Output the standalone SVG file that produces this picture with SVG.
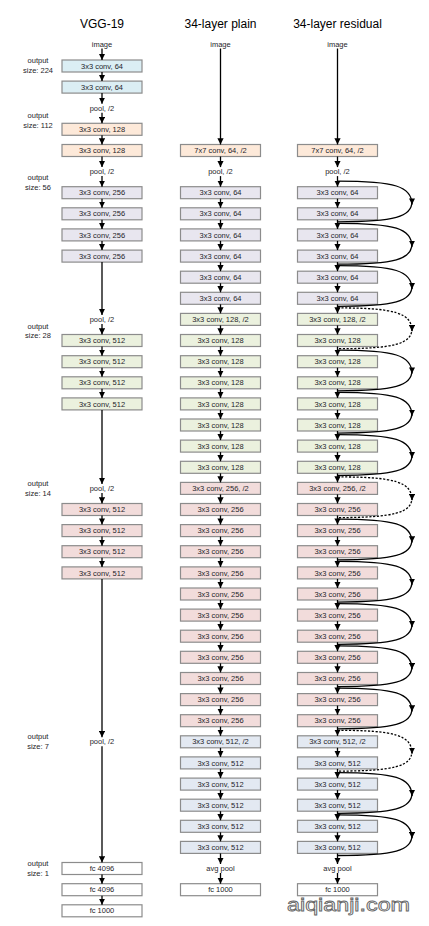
<svg xmlns="http://www.w3.org/2000/svg" width="429" height="926" viewBox="0 0 429 926">
<defs>
<marker id="ah" viewBox="0 0 10 10" refX="10" refY="5" markerWidth="6.2" markerHeight="6.2" markerUnits="userSpaceOnUse" orient="auto"><path d="M0,0 L10,5 L0,10 z" fill="#000"/></marker>
<style>
text{font-family:"Liberation Sans",Arial,sans-serif;fill:#1e1e2a;text-anchor:middle}
.t{font-size:12px;fill:#000}
.l{font-size:7.5px}
.o{font-size:7.5px}
rect{stroke:#8c8c8c;stroke-width:1.2;width:80px;height:12px}
.blue{fill:#dbeef4}.org{fill:#fde9d9}.lav{fill:#e8e6ef}.grn{fill:#ebf1de}.pnk{fill:#f2dcdb}.gry{fill:#e3e9f2}.wht{fill:#fff}
.a{stroke:#000;stroke-width:1.3;fill:none;marker-end:url(#ah)}
.s{stroke:#000;stroke-width:1.3;fill:none}
.d{stroke-dasharray:2.2 1.6}
.wm{font-size:18px;fill:#fff;stroke:#666;stroke-width:0.8;text-anchor:start}
</style>
</defs>
<g id="titles">
<text class="t" x="102" y="28">VGG-19</text>
<text class="t" x="220.5" y="28">34-layer plain</text>
<text class="t" x="337.5" y="28">34-layer residual</text>
</g>
<g id="output-sizes">
<text class="o" x="38" y="62.6">output</text><text class="o" x="38" y="72.5">size: 224</text>
<text class="o" x="38" y="117.5">output</text><text class="o" x="38" y="127.5">size: 112</text>
<text class="o" x="38" y="180">output</text><text class="o" x="38" y="189.7">size: 56</text>
<text class="o" x="38" y="328.5">output</text><text class="o" x="38" y="338.3">size: 28</text>
<text class="o" x="38" y="485.5">output</text><text class="o" x="38" y="495.5">size: 14</text>
<text class="o" x="38" y="739">output</text><text class="o" x="38" y="749">size: 7</text>
<text class="o" x="38" y="866">output</text><text class="o" x="38" y="876">size: 1</text>
</g>
<g id="vgg">
<g id="v_img"><text class="l" x="102" y="46.8">image</text></g>
<g id="v_1"><rect class="blue" x="62" y="60.0"/><text class="l" x="102" y="68.6">3x3 conv, 64</text></g>
<g id="v_2"><rect class="blue" x="62" y="81.1"/><text class="l" x="102" y="89.7">3x3 conv, 64</text></g>
<g id="v_p1"><text class="l" x="102" y="110.8">pool, /2</text></g>
<g id="v_3"><rect class="org" x="62" y="123.3"/><text class="l" x="102" y="131.9">3x3 conv, 128</text></g>
<g id="v_4"><rect class="org" x="62" y="144.5"/><text class="l" x="102" y="153.1">3x3 conv, 128</text></g>
<g id="v_p2"><text class="l" x="102" y="174.2">pool, /2</text></g>
<g id="v_5"><rect class="lav" x="62" y="186.7"/><text class="l" x="102" y="195.3">3x3 conv, 256</text></g>
<g id="v_6"><rect class="lav" x="62" y="207.8"/><text class="l" x="102" y="216.4">3x3 conv, 256</text></g>
<g id="v_7"><rect class="lav" x="62" y="228.9"/><text class="l" x="102" y="237.5">3x3 conv, 256</text></g>
<g id="v_8"><rect class="lav" x="62" y="250.1"/><text class="l" x="102" y="258.7">3x3 conv, 256</text></g>
<g id="v_p3"><text class="l" x="102" y="322.0">pool, /2</text></g>
<g id="v_9"><rect class="grn" x="62" y="334.5"/><text class="l" x="102" y="343.1">3x3 conv, 512</text></g>
<g id="v_10"><rect class="grn" x="62" y="355.7"/><text class="l" x="102" y="364.3">3x3 conv, 512</text></g>
<g id="v_11"><rect class="grn" x="62" y="376.8"/><text class="l" x="102" y="385.4">3x3 conv, 512</text></g>
<g id="v_12"><rect class="grn" x="62" y="397.9"/><text class="l" x="102" y="406.5">3x3 conv, 512</text></g>
<g id="v_p4"><text class="l" x="102" y="491.0">pool, /2</text></g>
<g id="v_13"><rect class="pnk" x="62" y="503.5"/><text class="l" x="102" y="512.1">3x3 conv, 512</text></g>
<g id="v_14"><rect class="pnk" x="62" y="524.6"/><text class="l" x="102" y="533.2">3x3 conv, 512</text></g>
<g id="v_15"><rect class="pnk" x="62" y="545.7"/><text class="l" x="102" y="554.3">3x3 conv, 512</text></g>
<g id="v_16"><rect class="pnk" x="62" y="566.9"/><text class="l" x="102" y="575.5">3x3 conv, 512</text></g>
<g id="v_p5"><text class="l" x="102" y="744.4">pool, /2</text></g>
<g id="v_fc1"><rect class="wht" x="62" y="862.5"/><text class="l" x="102" y="871.1">fc 4096</text></g>
<g id="v_fc2"><rect class="wht" x="62" y="883.7"/><text class="l" x="102" y="892.3">fc 4096</text></g>
<g id="v_fc3"><rect class="wht" x="62" y="904.8"/><text class="l" x="102" y="913.4">fc 1000</text></g>
</g>
<g id="plain">
<g id="p_img"><text class="l" x="220.5" y="46.8">image</text></g>
<g id="p_0"><rect class="org" x="180.5" y="144.5"/><text class="l" x="220.5" y="153.1">7x7 conv, 64, /2</text></g>
<g id="p_pool"><text class="l" x="220.5" y="174.2">pool, /2</text></g>
<g id="p_1"><rect class="lav" x="180.5" y="186.7"/><text class="l" x="220.5" y="195.3">3x3 conv, 64</text></g>
<g id="p_2"><rect class="lav" x="180.5" y="207.8"/><text class="l" x="220.5" y="216.4">3x3 conv, 64</text></g>
<g id="p_3"><rect class="lav" x="180.5" y="228.9"/><text class="l" x="220.5" y="237.5">3x3 conv, 64</text></g>
<g id="p_4"><rect class="lav" x="180.5" y="250.1"/><text class="l" x="220.5" y="258.7">3x3 conv, 64</text></g>
<g id="p_5"><rect class="lav" x="180.5" y="271.2"/><text class="l" x="220.5" y="279.8">3x3 conv, 64</text></g>
<g id="p_6"><rect class="lav" x="180.5" y="292.3"/><text class="l" x="220.5" y="300.9">3x3 conv, 64</text></g>
<g id="p_7"><rect class="grn" x="180.5" y="313.4"/><text class="l" x="220.5" y="322.0">3x3 conv, 128, /2</text></g>
<g id="p_8"><rect class="grn" x="180.5" y="334.5"/><text class="l" x="220.5" y="343.1">3x3 conv, 128</text></g>
<g id="p_9"><rect class="grn" x="180.5" y="355.7"/><text class="l" x="220.5" y="364.3">3x3 conv, 128</text></g>
<g id="p_10"><rect class="grn" x="180.5" y="376.8"/><text class="l" x="220.5" y="385.4">3x3 conv, 128</text></g>
<g id="p_11"><rect class="grn" x="180.5" y="397.9"/><text class="l" x="220.5" y="406.5">3x3 conv, 128</text></g>
<g id="p_12"><rect class="grn" x="180.5" y="419.0"/><text class="l" x="220.5" y="427.6">3x3 conv, 128</text></g>
<g id="p_13"><rect class="grn" x="180.5" y="440.1"/><text class="l" x="220.5" y="448.7">3x3 conv, 128</text></g>
<g id="p_14"><rect class="grn" x="180.5" y="461.3"/><text class="l" x="220.5" y="469.9">3x3 conv, 128</text></g>
<g id="p_15"><rect class="pnk" x="180.5" y="482.4"/><text class="l" x="220.5" y="491.0">3x3 conv, 256, /2</text></g>
<g id="p_16"><rect class="pnk" x="180.5" y="503.5"/><text class="l" x="220.5" y="512.1">3x3 conv, 256</text></g>
<g id="p_17"><rect class="pnk" x="180.5" y="524.6"/><text class="l" x="220.5" y="533.2">3x3 conv, 256</text></g>
<g id="p_18"><rect class="pnk" x="180.5" y="545.7"/><text class="l" x="220.5" y="554.3">3x3 conv, 256</text></g>
<g id="p_19"><rect class="pnk" x="180.5" y="566.9"/><text class="l" x="220.5" y="575.5">3x3 conv, 256</text></g>
<g id="p_20"><rect class="pnk" x="180.5" y="588.0"/><text class="l" x="220.5" y="596.6">3x3 conv, 256</text></g>
<g id="p_21"><rect class="pnk" x="180.5" y="609.1"/><text class="l" x="220.5" y="617.7">3x3 conv, 256</text></g>
<g id="p_22"><rect class="pnk" x="180.5" y="630.2"/><text class="l" x="220.5" y="638.8">3x3 conv, 256</text></g>
<g id="p_23"><rect class="pnk" x="180.5" y="651.3"/><text class="l" x="220.5" y="659.9">3x3 conv, 256</text></g>
<g id="p_24"><rect class="pnk" x="180.5" y="672.5"/><text class="l" x="220.5" y="681.1">3x3 conv, 256</text></g>
<g id="p_25"><rect class="pnk" x="180.5" y="693.6"/><text class="l" x="220.5" y="702.2">3x3 conv, 256</text></g>
<g id="p_26"><rect class="pnk" x="180.5" y="714.7"/><text class="l" x="220.5" y="723.3">3x3 conv, 256</text></g>
<g id="p_27"><rect class="gry" x="180.5" y="735.8"/><text class="l" x="220.5" y="744.4">3x3 conv, 512, /2</text></g>
<g id="p_28"><rect class="gry" x="180.5" y="756.9"/><text class="l" x="220.5" y="765.5">3x3 conv, 512</text></g>
<g id="p_29"><rect class="gry" x="180.5" y="778.1"/><text class="l" x="220.5" y="786.7">3x3 conv, 512</text></g>
<g id="p_30"><rect class="gry" x="180.5" y="799.2"/><text class="l" x="220.5" y="807.8">3x3 conv, 512</text></g>
<g id="p_31"><rect class="gry" x="180.5" y="820.3"/><text class="l" x="220.5" y="828.9">3x3 conv, 512</text></g>
<g id="p_32"><rect class="gry" x="180.5" y="841.4"/><text class="l" x="220.5" y="850.0">3x3 conv, 512</text></g>
<g id="p_avg"><text class="l" x="220.5" y="871.1">avg pool</text></g>
<g id="p_fc"><rect class="wht" x="180.5" y="883.7"/><text class="l" x="220.5" y="892.3">fc 1000</text></g>
</g>
<g id="residual">
<g id="r_img"><text class="l" x="337.5" y="46.8">image</text></g>
<g id="r_0"><rect class="org" x="297.5" y="144.5"/><text class="l" x="337.5" y="153.1">7x7 conv, 64, /2</text></g>
<g id="r_pool"><text class="l" x="337.5" y="174.2">pool, /2</text></g>
<g id="r_1"><rect class="lav" x="297.5" y="186.7"/><text class="l" x="337.5" y="195.3">3x3 conv, 64</text></g>
<g id="r_2"><rect class="lav" x="297.5" y="207.8"/><text class="l" x="337.5" y="216.4">3x3 conv, 64</text></g>
<g id="r_3"><rect class="lav" x="297.5" y="228.9"/><text class="l" x="337.5" y="237.5">3x3 conv, 64</text></g>
<g id="r_4"><rect class="lav" x="297.5" y="250.1"/><text class="l" x="337.5" y="258.7">3x3 conv, 64</text></g>
<g id="r_5"><rect class="lav" x="297.5" y="271.2"/><text class="l" x="337.5" y="279.8">3x3 conv, 64</text></g>
<g id="r_6"><rect class="lav" x="297.5" y="292.3"/><text class="l" x="337.5" y="300.9">3x3 conv, 64</text></g>
<g id="r_7"><rect class="grn" x="297.5" y="313.4"/><text class="l" x="337.5" y="322.0">3x3 conv, 128, /2</text></g>
<g id="r_8"><rect class="grn" x="297.5" y="334.5"/><text class="l" x="337.5" y="343.1">3x3 conv, 128</text></g>
<g id="r_9"><rect class="grn" x="297.5" y="355.7"/><text class="l" x="337.5" y="364.3">3x3 conv, 128</text></g>
<g id="r_10"><rect class="grn" x="297.5" y="376.8"/><text class="l" x="337.5" y="385.4">3x3 conv, 128</text></g>
<g id="r_11"><rect class="grn" x="297.5" y="397.9"/><text class="l" x="337.5" y="406.5">3x3 conv, 128</text></g>
<g id="r_12"><rect class="grn" x="297.5" y="419.0"/><text class="l" x="337.5" y="427.6">3x3 conv, 128</text></g>
<g id="r_13"><rect class="grn" x="297.5" y="440.1"/><text class="l" x="337.5" y="448.7">3x3 conv, 128</text></g>
<g id="r_14"><rect class="grn" x="297.5" y="461.3"/><text class="l" x="337.5" y="469.9">3x3 conv, 128</text></g>
<g id="r_15"><rect class="pnk" x="297.5" y="482.4"/><text class="l" x="337.5" y="491.0">3x3 conv, 256, /2</text></g>
<g id="r_16"><rect class="pnk" x="297.5" y="503.5"/><text class="l" x="337.5" y="512.1">3x3 conv, 256</text></g>
<g id="r_17"><rect class="pnk" x="297.5" y="524.6"/><text class="l" x="337.5" y="533.2">3x3 conv, 256</text></g>
<g id="r_18"><rect class="pnk" x="297.5" y="545.7"/><text class="l" x="337.5" y="554.3">3x3 conv, 256</text></g>
<g id="r_19"><rect class="pnk" x="297.5" y="566.9"/><text class="l" x="337.5" y="575.5">3x3 conv, 256</text></g>
<g id="r_20"><rect class="pnk" x="297.5" y="588.0"/><text class="l" x="337.5" y="596.6">3x3 conv, 256</text></g>
<g id="r_21"><rect class="pnk" x="297.5" y="609.1"/><text class="l" x="337.5" y="617.7">3x3 conv, 256</text></g>
<g id="r_22"><rect class="pnk" x="297.5" y="630.2"/><text class="l" x="337.5" y="638.8">3x3 conv, 256</text></g>
<g id="r_23"><rect class="pnk" x="297.5" y="651.3"/><text class="l" x="337.5" y="659.9">3x3 conv, 256</text></g>
<g id="r_24"><rect class="pnk" x="297.5" y="672.5"/><text class="l" x="337.5" y="681.1">3x3 conv, 256</text></g>
<g id="r_25"><rect class="pnk" x="297.5" y="693.6"/><text class="l" x="337.5" y="702.2">3x3 conv, 256</text></g>
<g id="r_26"><rect class="pnk" x="297.5" y="714.7"/><text class="l" x="337.5" y="723.3">3x3 conv, 256</text></g>
<g id="r_27"><rect class="gry" x="297.5" y="735.8"/><text class="l" x="337.5" y="744.4">3x3 conv, 512, /2</text></g>
<g id="r_28"><rect class="gry" x="297.5" y="756.9"/><text class="l" x="337.5" y="765.5">3x3 conv, 512</text></g>
<g id="r_29"><rect class="gry" x="297.5" y="778.1"/><text class="l" x="337.5" y="786.7">3x3 conv, 512</text></g>
<g id="r_30"><rect class="gry" x="297.5" y="799.2"/><text class="l" x="337.5" y="807.8">3x3 conv, 512</text></g>
<g id="r_31"><rect class="gry" x="297.5" y="820.3"/><text class="l" x="337.5" y="828.9">3x3 conv, 512</text></g>
<g id="r_32"><rect class="gry" x="297.5" y="841.4"/><text class="l" x="337.5" y="850.0">3x3 conv, 512</text></g>
<g id="r_avg"><text class="l" x="337.5" y="871.1">avg pool</text></g>
<g id="r_fc"><rect class="wht" x="297.5" y="883.7"/><text class="l" x="337.5" y="892.3">fc 1000</text></g>
</g>
<g id="connectors">
<path class="a" d="M102,48.5V60"/><path class="a" d="M102,72V81.1"/><path class="a" d="M102,93.1V103.7"/><path class="a" d="M102,112.7V123.3"/><path class="a" d="M102,135.3V144.5"/><path class="a" d="M102,156.5V167.1"/><path class="a" d="M102,176.1V186.7"/><path class="a" d="M102,198.7V207.8"/><path class="a" d="M102,219.8V228.9"/><path class="a" d="M102,240.9V250.1"/><path class="a" d="M102,262.1V314.9"/><path class="a" d="M102,323.9V334.5"/><path class="a" d="M102,346.5V355.7"/><path class="a" d="M102,367.7V376.8"/><path class="a" d="M102,388.8V397.9"/><path class="a" d="M102,409.9V483.9"/><path class="a" d="M102,492.9V503.5"/><path class="a" d="M102,515.5V524.6"/><path class="a" d="M102,536.6V545.7"/><path class="a" d="M102,557.7V566.9"/><path class="a" d="M102,578.9V737.3"/><path class="a" d="M102,746.3V862.5"/><path class="a" d="M102,874.5V883.7"/><path class="a" d="M102,895.7V904.8"/>
<path class="a" d="M220.5,48.5V144.5"/><path class="a" d="M220.5,156.5V167.1"/><path class="a" d="M220.5,176.1V186.7"/><path class="a" d="M220.5,198.7V207.8"/><path class="a" d="M220.5,219.8V228.9"/><path class="a" d="M220.5,240.9V250.1"/><path class="a" d="M220.5,262.1V271.2"/><path class="a" d="M220.5,283.2V292.3"/><path class="a" d="M220.5,304.3V313.4"/><path class="a" d="M220.5,325.4V334.5"/><path class="a" d="M220.5,346.5V355.7"/><path class="a" d="M220.5,367.7V376.8"/><path class="a" d="M220.5,388.8V397.9"/><path class="a" d="M220.5,409.9V419"/><path class="a" d="M220.5,431V440.1"/><path class="a" d="M220.5,452.1V461.3"/><path class="a" d="M220.5,473.3V482.4"/><path class="a" d="M220.5,494.4V503.5"/><path class="a" d="M220.5,515.5V524.6"/><path class="a" d="M220.5,536.6V545.7"/><path class="a" d="M220.5,557.7V566.9"/><path class="a" d="M220.5,578.9V588"/><path class="a" d="M220.5,600V609.1"/><path class="a" d="M220.5,621.1V630.2"/><path class="a" d="M220.5,642.2V651.3"/><path class="a" d="M220.5,663.3V672.5"/><path class="a" d="M220.5,684.5V693.6"/><path class="a" d="M220.5,705.6V714.7"/><path class="a" d="M220.5,726.7V735.8"/><path class="a" d="M220.5,747.8V756.9"/><path class="a" d="M220.5,768.9V778.1"/><path class="a" d="M220.5,790.1V799.2"/><path class="a" d="M220.5,811.2V820.3"/><path class="a" d="M220.5,832.3V841.4"/><path class="a" d="M220.5,853.4V864"/><path class="a" d="M220.5,873V883.7"/>
<path class="a" d="M337.5,48.5V144.5"/><path class="a" d="M337.5,156.5V167.1"/><path class="a" d="M337.5,176.1V186.7"/><path class="a" d="M337.5,198.7V207.8"/><path class="a" d="M337.5,219.8V228.9"/><path class="a" d="M337.5,240.9V250.1"/><path class="a" d="M337.5,262.1V271.2"/><path class="a" d="M337.5,283.2V292.3"/><path class="a" d="M337.5,304.3V313.4"/><path class="a" d="M337.5,325.4V334.5"/><path class="a" d="M337.5,346.5V355.7"/><path class="a" d="M337.5,367.7V376.8"/><path class="a" d="M337.5,388.8V397.9"/><path class="a" d="M337.5,409.9V419"/><path class="a" d="M337.5,431V440.1"/><path class="a" d="M337.5,452.1V461.3"/><path class="a" d="M337.5,473.3V482.4"/><path class="a" d="M337.5,494.4V503.5"/><path class="a" d="M337.5,515.5V524.6"/><path class="a" d="M337.5,536.6V545.7"/><path class="a" d="M337.5,557.7V566.9"/><path class="a" d="M337.5,578.9V588"/><path class="a" d="M337.5,600V609.1"/><path class="a" d="M337.5,621.1V630.2"/><path class="a" d="M337.5,642.2V651.3"/><path class="a" d="M337.5,663.3V672.5"/><path class="a" d="M337.5,684.5V693.6"/><path class="a" d="M337.5,705.6V714.7"/><path class="a" d="M337.5,726.7V735.8"/><path class="a" d="M337.5,747.8V756.9"/><path class="a" d="M337.5,768.9V778.1"/><path class="a" d="M337.5,790.1V799.2"/><path class="a" d="M337.5,811.2V820.3"/><path class="a" d="M337.5,832.3V841.4"/><path class="a" d="M337.5,853.4V864"/><path class="a" d="M337.5,873V883.7"/>
<g id="shortcuts">
<path class="a" d="M337.5,181.2C395,181.2 412,186.2 412,204.6"/><path class="s" d="M412,201.6C412,216.9 395,221.9 337.5,221.9"/>
<path class="a" d="M337.5,223.4C395,223.4 412,228.4 412,246.8"/><path class="s" d="M412,243.8C412,259.2 395,264.2 337.5,264.2"/>
<path class="a" d="M337.5,265.7C395,265.7 412,270.7 412,289.1"/><path class="s" d="M412,286.1C412,301.4 395,306.4 337.5,306.4"/>
<path class="a d" d="M337.5,307.9C395,307.9 412,312.9 412,331.3"/><path class="s d" d="M412,328.3C412,343.7 395,348.7 337.5,348.7"/>
<path class="a" d="M337.5,350.2C395,350.2 412,355.2 412,373.6"/><path class="s" d="M412,370.6C412,385.9 395,390.9 337.5,390.9"/>
<path class="a" d="M337.5,392.4C395,392.4 412,397.4 412,415.8"/><path class="s" d="M412,412.8C412,428.1 395,433.1 337.5,433.1"/>
<path class="a" d="M337.5,434.6C395,434.6 412,439.6 412,458"/><path class="s" d="M412,455C412,470.4 395,475.4 337.5,475.4"/>
<path class="a d" d="M337.5,476.9C395,476.9 412,481.9 412,500.3"/><path class="s d" d="M412,497.3C412,512.6 395,517.6 337.5,517.6"/>
<path class="a" d="M337.5,519.1C395,519.1 412,524.1 412,542.5"/><path class="s" d="M412,539.5C412,554.9 395,559.9 337.5,559.9"/>
<path class="a" d="M337.5,561.4C395,561.4 412,566.4 412,584.8"/><path class="s" d="M412,581.8C412,597.1 395,602.1 337.5,602.1"/>
<path class="a" d="M337.5,603.6C395,603.6 412,608.6 412,627"/><path class="s" d="M412,624C412,639.3 395,644.3 337.5,644.3"/>
<path class="a" d="M337.5,645.8C395,645.8 412,650.8 412,669.2"/><path class="s" d="M412,666.2C412,681.6 395,686.6 337.5,686.6"/>
<path class="a" d="M337.5,688.1C395,688.1 412,693.1 412,711.5"/><path class="s" d="M412,708.5C412,723.8 395,728.8 337.5,728.8"/>
<path class="a d" d="M337.5,730.3C395,730.3 412,735.3 412,753.7"/><path class="s d" d="M412,750.7C412,766.1 395,771.1 337.5,771.1"/>
<path class="a" d="M337.5,772.6C395,772.6 412,777.6 412,796"/><path class="s" d="M412,793C412,808.3 395,813.3 337.5,813.3"/>
<path class="a" d="M337.5,814.8C395,814.8 412,819.8 412,838.2"/><path class="s" d="M412,835.2C412,850.5 395,855.5 337.5,855.5"/>
</g>
</g>
<text class="wm" x="287" y="911" textLength="123" lengthAdjust="spacingAndGlyphs">aiqianji.com</text>
</svg>
